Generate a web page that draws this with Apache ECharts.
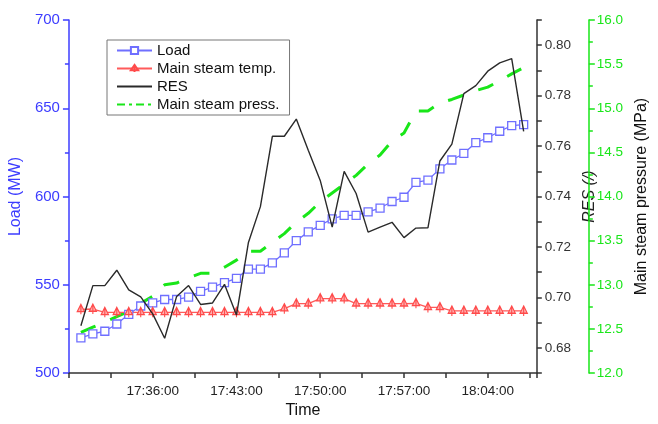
<!DOCTYPE html>
<html>
<head>
<meta charset="utf-8">
<script src="https://cdn.jsdelivr.net/npm/echarts@6/dist/echarts.min.js"></script>
<style>
  html, body { margin: 0; padding: 0; background: #fff; }
  #chart { width: 658px; height: 424px; }
</style>
</head>
<body>
<div id="chart"></div>
<script>
// Sampling times (one record per minute)
const times = ['17:30','17:31','17:32','17:33','17:34','17:35','17:36','17:37','17:38','17:39',
  '17:40','17:41','17:42','17:43','17:44','17:45','17:46','17:47','17:48','17:49',
  '17:50','17:51','17:52','17:53','17:54','17:55','17:56','17:57','17:58','17:59',
  '18:00','18:01','18:02','18:03','18:04','18:05','18:06','18:07'];

// Unit load (MW)
const load = [520, 522.2, 523.7, 527.8, 533.3, 538, 539.8, 541.7, 541.7, 543,
  546.3, 548.7, 551.3, 553.7, 558.9, 558.9, 562.4, 568.1, 575, 580,
  583.7, 587.4, 589.3, 589.3, 591.3, 593.5, 597.2, 599.6, 608, 609.3,
  615.7, 620.7, 624.4, 630.6, 633.3, 637, 640.2, 640.7];

// Main steam temperature (plotted on the load scale)
const steamTemp = [536.1, 536.3, 534.4, 534.4, 534.4, 534.4, 534.4, 534.4, 534.4, 534.4,
  534.4, 534.4, 534.4, 534.4, 534.4, 534.4, 534.4, 536.5, 539.3, 539.3,
  542.2, 542.2, 542.2, 539.3, 539.3, 539.3, 539.3, 539.3, 539.5, 537.2,
  537.2, 535.2, 535.2, 535.2, 535.2, 535.2, 535.2, 535.2];

// RES index
const res = [0.6888, 0.7047, 0.7047, 0.7108, 0.7030, 0.7002, 0.6935, 0.6838, 0.7004, 0.7047,
  0.6972, 0.6978, 0.7052, 0.6930, 0.7218, 0.7360, 0.7639, 0.7639, 0.7707, 0.7584,
  0.7464, 0.7279, 0.7500, 0.7412, 0.7259, 0.7279, 0.7298, 0.7237, 0.7275, 0.7276,
  0.7541, 0.7608, 0.7808, 0.7840, 0.7897, 0.7930, 0.7947, 0.7658];

// Main steam pressure (MPa)
const pressure = [12.46, 12.52, 12.58, 12.64, 12.70, 12.79, 12.87, 13.00, 13.02, 13.08,
  13.13, 13.13, 13.20, 13.28, 13.38, 13.38, 13.48, 13.58, 13.71, 13.81,
  13.94, 14.04, 14.14, 14.24, 14.37, 14.47, 14.63, 14.72, 14.97, 14.97,
  15.06, 15.10, 15.15, 15.20, 15.24, 15.31, 15.39, 15.46];

// Time axis: minutes counted from 17:29
const BASE = 17 * 60 + 29;
const toMin = t => { const [h, m] = t.split(':').map(Number); return h * 60 + m - BASE; };
const fmtTime = v => {
  const tot = BASE + Math.round(v * 60) / 60;
  const h = Math.floor(tot / 60), m = Math.round(tot % 60);
  return h + ':' + String(m).padStart(2, '0') + ':00';
};
const xs = times.map(toMin);
const pairs = arr => arr.map((v, i) => [xs[i], v]);

const FONT = '"Liberation Sans", Arial, sans-serif';
const BLUE = '#3c3cff';
const GREEN = '#19e619';

const chart = echarts.init(document.getElementById('chart'), null, { renderer: 'canvas' });
chart.setOption({
  animation: false,
  backgroundColor: '#fff',
  textStyle: { fontFamily: FONT },
  grid: { left: 68, right: 116, top: 20, bottom: 44 },
  legend: {
    orient: 'vertical',
    left: 107, top: 40,
    backgroundColor: '#fff',
    borderColor: '#777', borderWidth: 1,
    padding: [3, 10, 3, 9],
    itemWidth: 35, itemHeight: 9, itemGap: 3,
    textStyle: { fontSize: 15, color: '#111', fontFamily: FONT, lineHeight: 15 },
    data: [
      'Load',
      'Main steam temp.',
      { name: 'RES', itemStyle: { opacity: 0 } },
      { name: 'Main steam press.', itemStyle: { opacity: 0 }, lineStyle: { type: [8, 4, 3, 4] } }
    ]
  },
  xAxis: {
    type: 'value',
    min: 0, max: 39.1, interval: 3.5,
    name: 'Time', nameLocation: 'middle', nameGap: 26,
    nameTextStyle: { fontSize: 16, color: '#111', fontFamily: FONT },
    axisLine: { lineStyle: { color: '#333', width: 1.5 } },
    axisTick: { inside: false, length: 5, lineStyle: { color: '#333', width: 1.5 } },
    axisLabel: {
      margin: 11, fontSize: 13.5, color: '#222', fontFamily: FONT,
      formatter: v => (v > 0 && Math.abs(v % 7) < 1e-6) ? fmtTime(v) : ''
    },
    splitLine: { show: false }
  },
  yAxis: [
    {
      type: 'value', position: 'left',
      min: 500, max: 700, interval: 50,
      name: 'Load (MW)', nameLocation: 'middle', nameGap: 41,
      nameTextStyle: { fontSize: 16, color: BLUE, fontFamily: FONT },
      axisLine: { show: true, lineStyle: { color: BLUE, width: 1.5 } },
      axisTick: { show: true, length: 6, lineStyle: { color: BLUE, width: 1.5 } },
      minorTick: { show: true, splitNumber: 2, length: 4, lineStyle: { color: BLUE, width: 1.5 } },
      axisLabel: { margin: 9, fontSize: 15, color: BLUE, fontFamily: FONT },
      splitLine: { show: false }
    },
    {
      type: 'value', position: 'right',
      min: 0.67, max: 0.81, interval: 0.01,
      name: 'RES (/)', nameLocation: 'middle', nameGap: 35,
      nameTextStyle: { fontSize: 16, color: '#222', fontStyle: 'italic', fontFamily: FONT },
      axisLine: { show: true, lineStyle: { color: '#333', width: 1.5 } },
      axisTick: { show: true, length: 5, lineStyle: { color: '#333', width: 1.5 } },
      axisLabel: {
        margin: 8, fontSize: 13.5, color: '#333', fontFamily: FONT,
        formatter: v => (Math.round(v * 100) % 2 === 0) ? v.toFixed(2) : ''
      },
      splitLine: { show: false }
    },
    {
      type: 'value', position: 'right', offset: 52,
      min: 12, max: 16, interval: 0.5,
      name: 'Main steam pressure (MPa)', nameLocation: 'middle', nameGap: 40,
      nameTextStyle: { fontSize: 16, color: '#111', fontFamily: FONT },
      axisLine: { show: true, lineStyle: { color: GREEN, width: 1.5 } },
      axisTick: { show: true, length: 6, lineStyle: { color: GREEN, width: 1.5 } },
      minorTick: { show: true, splitNumber: 2, length: 4, lineStyle: { color: GREEN, width: 1.5 } },
      axisLabel: {
        margin: 8, fontSize: 13.5, color: GREEN, fontFamily: FONT,
        formatter: v => v.toFixed(1)
      },
      splitLine: { show: false }
    }
  ],
  series: [
    {
      name: 'Load', type: 'line', yAxisIndex: 0,
      data: pairs(load),
      symbol: 'rect', symbolSize: 8,
      itemStyle: { color: '#fff', borderColor: '#6f6fff', borderWidth: 1.3 },
      lineStyle: { color: '#6f6fff', width: 1.3 },
      z: 3
    },
    {
      name: 'Main steam temp.', type: 'line', yAxisIndex: 0,
      data: pairs(steamTemp),
      symbol: 'path://M5,0 L10,8 L0,8 Z M5,0 L5,11', symbolSize: [8, 10], symbolKeepAspect: true,
      itemStyle: { color: '#ffb0b0', borderColor: '#ff4a4a', borderWidth: 1.2 },
      lineStyle: { color: '#ff5a5a', width: 1.3 },
      z: 3
    },
    {
      name: 'RES', type: 'line', yAxisIndex: 1,
      data: pairs(res),
      symbol: 'none',
      itemStyle: { color: '#2a2a2a' },
      lineStyle: { color: '#2a2a2a', width: 1.4 },
      z: 4
    },
    {
      name: 'Main steam press.', type: 'line', yAxisIndex: 2,
      data: pairs(pressure),
      symbol: 'none',
      itemStyle: { color: GREEN },
      lineStyle: { color: GREEN, width: 3, type: [16, 16] },
      z: 2
    }
  ]
});
</script>
</body>
</html>
